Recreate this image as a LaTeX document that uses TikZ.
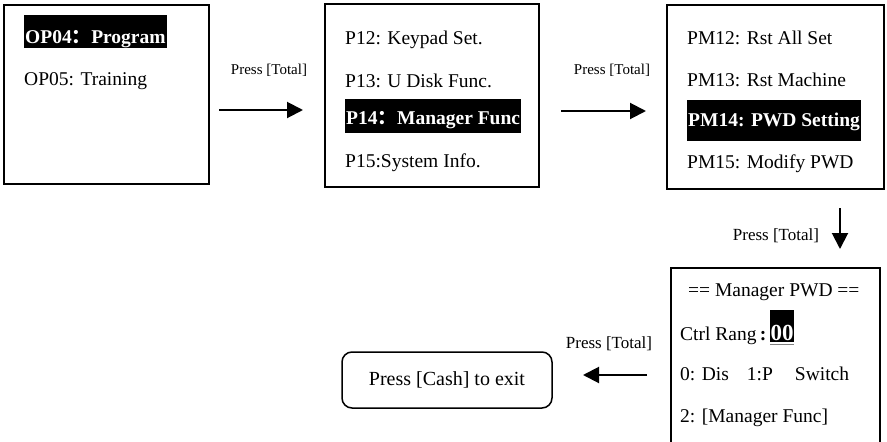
\documentclass[tikz,border=0pt]{standalone}
\usepackage{fontspec}
\setmainfont{Liberation Serif}
\newfontfamily\cjkfont{Noto Sans CJK SC}
\usetikzlibrary{arrows.meta}
\begin{document}
\begin{tikzpicture}[x=1pt,y=-1pt,
  frame/.style={draw=black, line width=1.5pt, inner sep=0pt},
  menu/.style={anchor=base west, inner sep=0pt, font=\fontsize{19.5}{22}\selectfont},
  hl/.style={anchor=base west, inner ysep=0pt, inner xsep=1pt, fill=black, text=white, font=\fontsize{19.5}{22}\selectfont\bfseries},
  lbl/.style={inner sep=0pt, font=\fontsize{17}{19}\selectfont},
  lblsmall/.style={inner sep=0pt, font=\fontsize{15}{17}\selectfont},
  flow/.style={line width=2pt, -{Triangle[length=16pt,width=16pt]}},
]
\useasboundingbox (0,0) rectangle (887,442);

% screens
\node[frame, minimum width=205pt, minimum height=179pt] (s1) at (106.5,94.5) {};
\node[frame, minimum width=214pt, minimum height=183pt] (s2) at (432,95.5) {};
\node[frame, minimum width=217pt, minimum height=184pt] (s3) at (775.5,97) {};
\coordinate (s4bl) at (671,444);
\coordinate (s4ne) at (880,268);
\coordinate (s4br) at (880,444);
\draw[line width=1.5pt] (s4bl) |- (s4ne) -- (s4br);
\node[frame, rounded corners=10pt, minimum width=210pt, minimum height=56pt, font=\fontsize{20}{22}\selectfont] (exit) at (447,380) {Press [Cash] to exit};

% screen 1
\node[hl, text height=28pt, text depth=5pt] (op4) at (24,43) {OP04{\cjkfont ：}Program};
\node[menu] (op5) at (24,85) {OP05: Training};

% screen 2
\node[menu] (p12) at (345,44) {P12: Keypad Set.};
\node[menu] (p13) at (345,87) {P13: U Disk Func.};
\node[hl, text height=25pt, text depth=9pt] (p14) at (345,124) {P14{\cjkfont ：}Manager Func};
\node[menu] (p15) at (345,167) {P15:System Info.};

% screen 3
\node[menu] (pm12) at (687,44) {PM12: Rst All Set};
\node[menu] (pm13) at (687,86) {PM13: Rst Machine};
\node[hl, text height=26pt, text depth=15pt] (pm14) at (687,126) {PM14: PWD Setting};
\node[menu] (pm15) at (687,168) {PM15: Modify PWD};

% screen 4
\node[menu] (mp) at (688,296) {== Manager PWD ==};
\node[menu] (cr) at (680,340) {Ctrl Rang\,\textbf{:}};
\node[anchor=base west, fill=black, text=white, inner xsep=0.5pt, inner ysep=0pt, text height=30pt, text depth=2pt, font=\fontsize{23}{25}\selectfont\bfseries] (zz) at (770,340) {00};
\draw[gray, line width=1pt] ([yshift=-2pt]zz.south west) -- ([yshift=-2pt]zz.south east);
\node[menu] (sw) at (680,380) {0: Dis\hspace*{18pt}1:P\hspace*{22pt}Switch};
\node[menu] (mf) at (680,422) {2: [Manager Func]};

% labels
\node[lblsmall] (l1) at (269,70) {Press [Total]};
\node[lblsmall] (l2) at (612,70) {Press [Total]};
\node[lbl] (l3) at (776,236) {Press [Total]};
\node[lbl] (l4) at (609,344) {Press [Total]};

% arrows
\coordinate (a1s) at (219,110); \coordinate (a1e) at (303,110);
\coordinate (a2s) at (561,111); \coordinate (a2e) at (646,111);
\coordinate (a3s) at (840,208); \coordinate (a3e) at (840,249);
\coordinate (a4s) at (647,375); \coordinate (a4e) at (583,375);
\draw[flow] (a1s) -- (a1e);
\draw[flow] (a2s) -- (a2e);
\draw[flow] (a3s) -- (a3e);
\draw[flow] (a4s) -- (a4e);
\end{tikzpicture}
\end{document}
